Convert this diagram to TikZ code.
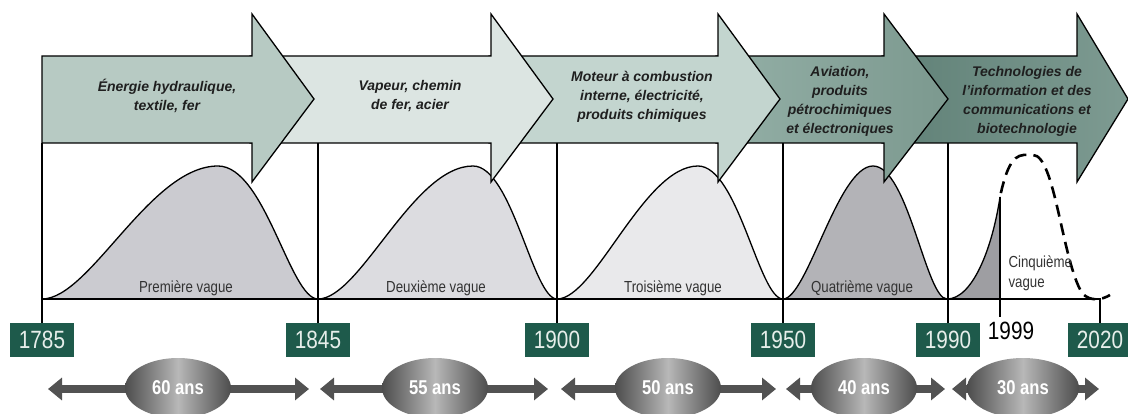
\documentclass[tikz,border=0pt]{standalone}
\usepackage{fontspec}
\setmainfont{Liberation Sans}
\newfontfamily\narrowfont[FakeStretch=0.83]{Liberation Sans}
\usetikzlibrary{arrows.meta,shapes.geometric}
\definecolor{yeargreen}{HTML}{1E5A4B}
\definecolor{yeartext}{HTML}{E6EEEA}
\definecolor{arrowa}{HTML}{B7CAC3}
\definecolor{arrowb}{HTML}{DCE5E2}
\definecolor{arrowc}{HTML}{C3D5CF}
\definecolor{arrowdl}{HTML}{93AFA6}
\definecolor{arrowdr}{HTML}{7C998F}
\definecolor{arrowel}{HTML}{5F8076}
\definecolor{arrower}{HTML}{7E9B92}
\definecolor{wavea}{HTML}{CBCBD0}
\definecolor{waveb}{HTML}{DCDCE0}
\definecolor{wavec}{HTML}{E9E9EB}
\definecolor{waved}{HTML}{B3B3B7}
\definecolor{wavee}{HTML}{9E9EA2}
\definecolor{durgray}{HTML}{525252}
\tikzset{
techarrow/.style={draw,line width=1.3pt,line join=miter},
techtext/.style={align=center,text=black!88,font=\fontsize{14}{19}\selectfont\bfseries\itshape},
wave/.style={draw,line width=1.3pt},
timeline/.style={draw,line width=1.2pt},
yearbox/.style={fill=yeargreen,text=yeartext,minimum width=64pt,minimum height=34pt,inner sep=0pt,font=\narrowfont\fontsize{25}{25}\selectfont},
wavelabel/.style={text=black!80,font=\narrowfont\fontsize{16}{20}\selectfont},
duration/.style={draw=durgray,line width=8pt,{Triangle[length=14pt,width=22pt]}-{Triangle[length=14pt,width=22pt]}},
spanoval/.style={ellipse,minimum width=106pt,minimum height=60pt,inner sep=0pt,left color=black!70,right color=black!70,middle color=black!28,text=white,font=\narrowfont\bfseries\fontsize{20}{20}\selectfont}
}
\begin{document}
\begin{tikzpicture}[x=1pt,y=-1pt]
\useasboundingbox (0,0) rectangle (1128,414);
\path[wave,fill=wavea](42,299)..controls(90,299)and(150,166)..(218,166)..controls(265,166)and(290,299)..(318,299)--cycle;
\path[wave,fill=waveb](318,299)..controls(360,299)and(413,166)..(473,166)..controls(512,166)and(533,299)..(557,299)--cycle;
\path[wave,fill=wavec](557,299)..controls(595,299)and(644,166)..(698,166)..controls(738,166)and(759,299)..(783,299)--cycle;
\path[wave,fill=waved](783,299)..controls(807,299)and(838,166)..(873,166)..controls(908,166)and(926,299)..(947,299)--cycle;
\path[wave,fill=wavee](947,299)..controls(972,299)and(992,250)..(1000,197)--(1000,299)--cycle;
\path[draw,line width=2.6pt,dash pattern=on 12pt off 7pt,dash phase=-4pt]%
(1000,197)..controls(1010,150)and(1020,155)..(1033,155)..controls(1055,155)and(1062,260)..(1082,293)..controls(1090,302)and(1102,300)..(1110,295);
\path[techarrow,left color=arrowel,right color=arrower]%
(882,56)--(1077,56)--(1077,14)--(1128,99)--(1077,182)--(1077,143)--(882,143)--cycle;
\path[techarrow,left color=arrowdl,right color=arrowdr]%
(716,56)--(884,56)--(884,14)--(948,99)--(884,182)--(884,143)--(716,143)--cycle;
\path[techarrow,fill=arrowc]%
(489,56)--(718,56)--(718,14)--(780,99)--(718,182)--(718,143)--(489,143)--cycle;
\path[techarrow,fill=arrowb]%
(250,56)--(491,56)--(491,14)--(553,99)--(491,182)--(491,143)--(250,143)--cycle;
\path[techarrow,fill=arrowa]%
(42,56)--(252,56)--(252,14)--(314,99)--(252,182)--(252,143)--(42,143)--cycle;
\node[techtext](era1)at(167,96){Énergie hydraulique,\\textile, fer};
\node[techtext](era2)at(410,96){Vapeur, chemin\\de fer, acier};
\node[techtext](era3)at(642,97){Moteur à combustion\\interne, électricité,\\produits chimiques};
\node[techtext](era4)at(840,101){Aviation,\\produits\\pétrochimiques\\et électroniques};
\node[techtext](era5)at(1027,101){Technologies de\\l'information et des\\communications et\\biotechnologie};
\node[wavelabel](w1)at(186,288){Première vague};
\node[wavelabel](w2)at(436,288){Deuxième vague};
\node[wavelabel](w3)at(673,288){Troisième vague};
\node[wavelabel](w4)at(862,288){Quatrième vague};
\node[wavelabel,align=left,anchor=west](w5)at(1005,273){Cinquième\\vague};
\path[timeline](42,299)--(1101,299);
\node[yearbox](y1785)at(42,340){1785};
\node[yearbox](y1845)at(318,340){1845};
\node[yearbox](y1900)at(557,340){1900};
\node[yearbox](y1950)at(783,340){1950};
\node[yearbox](y1990)at(948,340){1990};
\node[yearbox](y2020)at(1100,340){2020};
\node[font=\narrowfont\fontsize{25}{25}\selectfont](y1999)at(1011,331){1999};
\coordinate(t1785)at(42,143);
\coordinate(t1845)at(318,143);
\coordinate(t1900)at(557,143);
\coordinate(t1950)at(783,143);
\coordinate(t1990)at(948,143);
\coordinate(t2020)at(1100,299);
\coordinate(t1999)at(1000,197);
\coordinate(f1999)at(1000,317);
\path[timeline](t1785)--(y1785);
\path[timeline](t1845)--(y1845);
\path[timeline](t1900)--(y1900);
\path[timeline](t1950)--(y1950);
\path[timeline](t1990)--(y1990);
\path[timeline](t2020)--(y2020);
\path[timeline](t1999)--(f1999);
\coordinate(d1l)at(48,389);\coordinate(d1r)at(309,389);
\coordinate(d2l)at(320,389);\coordinate(d2r)at(548,389);
\coordinate(d3l)at(561,389);\coordinate(d3r)at(776,389);
\coordinate(d4l)at(786,389);\coordinate(d4r)at(945,389);
\coordinate(d5l)at(952,389);\coordinate(d5r)at(1099,389);
\path[duration](d1l)--(d1r);
\path[duration](d2l)--(d2r);
\path[duration](d3l)--(d3r);
\path[duration](d4l)--(d4r);
\path[duration](d5l)--(d5r);
\node[spanoval](s1)at(178,388){60 ans};
\node[spanoval](s2)at(435,388){55 ans};
\node[spanoval](s3)at(668,388){50 ans};
\node[spanoval](s4)at(864,388){40 ans};
\node[spanoval,minimum width=112pt](s5)at(1023,388){30 ans};
\end{tikzpicture}
\end{document}
